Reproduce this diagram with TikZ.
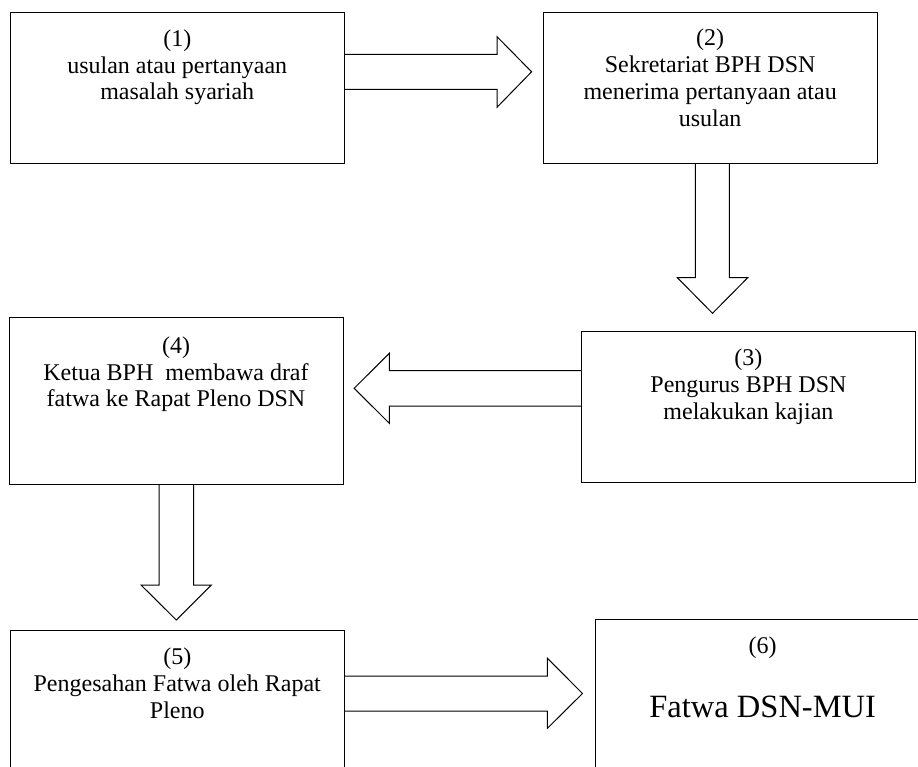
\documentclass[tikz,border=0pt]{standalone}
\usepackage{fontspec}
\setmainfont{Liberation Serif}
\begin{document}
\begin{tikzpicture}[x=1pt,y=-1pt,
  box/.style={draw=black,line width=1pt,rectangle,inner sep=0pt,outer sep=0pt},
  txt/.style={font=\fontsize{24}{27}\selectfont,anchor=base,inner sep=0pt},
  bigtxt/.style={font=\fontsize{32.5}{36}\selectfont,anchor=base,inner sep=0pt},
  barrow/.style={draw=black,line width=1pt,line join=miter}]
\useasboundingbox (0,0) rectangle (918,767);
\clip (0,0) rectangle (918,767);

% boxes
\node[box,minimum width=333.5pt,minimum height=151pt] (b1) at (177.25,87.8) {};
\node[box,minimum width=333.7pt,minimum height=151pt] (b2) at (710.15,87.8) {};
\node[box,minimum width=334.1pt,minimum height=151pt] (b3) at (748.45,406.5) {};
\node[box,minimum width=334pt,minimum height=166.6pt] (b4) at (176,401) {};
\node[box,minimum width=333.5pt,minimum height=170pt] (b5) at (177.25,715) {};
\node[box,minimum width=334.6pt,minimum height=180.3pt] (b6) at (762.7,709.85) {};

% texts
\node[txt] (t1a) at (177.25,46.7) {(1)};
\node[txt] (t1b) at (177.25,73.3) {usulan atau pertanyaan};
\node[txt] (t1c) at (177.25,100) {masalah syariah};

\node[txt] (t2a) at (710.15,46) {(2)};
\node[txt] (t2b) at (710.15,72.7) {Sekretariat BPH DSN};
\node[txt] (t2c) at (710.15,100) {menerima pertanyaan atau};
\node[txt] (t2d) at (710.15,127) {usulan};

\node[txt] (t3a) at (748.45,365.5) {(3)};
\node[txt] (t3b) at (748.45,392.5) {Pengurus BPH DSN};
\node[txt] (t3c) at (748.45,419.5) {melakukan kajian};

\node[txt] (t4a) at (176,353.3) {(4)};
\node[txt] (t4b) at (176,380) {Ketua BPH\ \ membawa draf};
\node[txt] (t4c) at (176,406.5) {fatwa ke Rapat Pleno DSN};

\node[txt] (t5a) at (177.25,664.5) {(5)};
\node[txt] (t5b) at (177.25,691.5) {Pengesahan Fatwa oleh Rapat};
\node[txt] (t5c) at (177.25,718.5) {Pleno};

\node[txt] (t6a) at (762.7,653.7) {(6)};
\node[bigtxt] (t6b) at (762.7,717) {Fatwa DSN-MUI};

% block arrows
\draw[barrow] (b1.east |- 0,54.3) -- (497,54.3) -- (497,36.7) -- (531.6,71.8)
  -- (497,107.3) -- (497,89.3) -- (b1.east |- 0,89.3);
\draw[barrow] (695.3,0 |- b2.south) -- (695.3,277.7) -- (677.4,277.7) -- (712.5,313.3)
  -- (747.7,277.7) -- (729.3,277.7) -- (729.3,0 |- b2.south);
\draw[barrow] (b3.west |- 0,370.7) -- (389.3,370.7) -- (389.3,353.3) -- (354.2,388.3)
  -- (389.3,423.3) -- (389.3,406) -- (b3.west |- 0,406);
\draw[barrow] (159,0 |- b4.south) -- (159,585) -- (141,585) -- (176.3,620)
  -- (211.4,585) -- (193.7,585) -- (193.7,0 |- b4.south);
\draw[barrow] (b5.east |- 0,676) -- (547.4,676) -- (547.4,658.3) -- (582.5,693.5)
  -- (547.4,728.3) -- (547.4,711) -- (b5.east |- 0,711);
\end{tikzpicture}
\end{document}
